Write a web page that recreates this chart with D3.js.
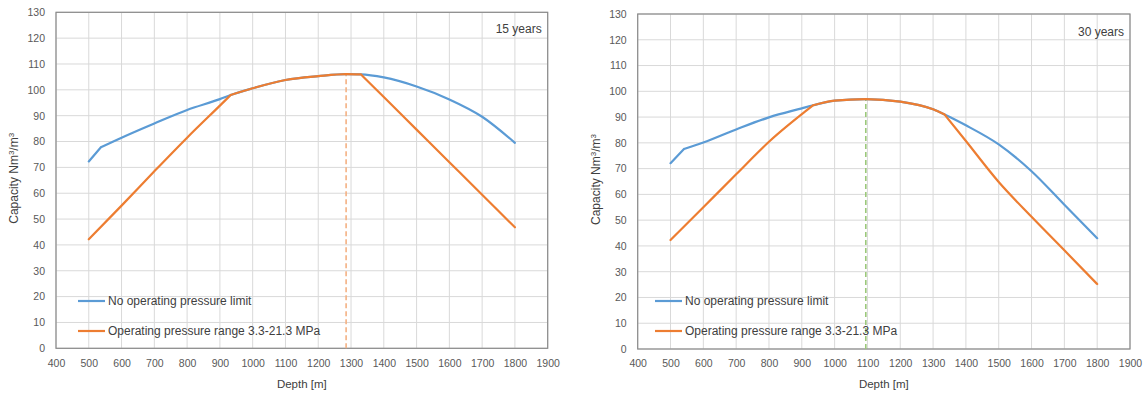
<!DOCTYPE html>
<html>
<head>
<meta charset="utf-8">
<script src="https://cdn.jsdelivr.net/npm/d3@7/dist/d3.min.js"></script>
<style>
  html, body { margin: 0; padding: 0; background: #fff; }
  svg text { font-family: "Liberation Sans", Arial, sans-serif; fill: #595959; }
</style>
</head>
<body>
<svg id="chart" width="1145" height="394"></svg>
<script>
// ---- Data ----
const xTicks = [400, 500, 600, 700, 800, 900, 1000, 1100, 1200, 1300, 1400, 1500, 1600, 1700, 1800, 1900];
const yTicks = [0, 10, 20, 30, 40, 50, 60, 70, 80, 90, 100, 110, 120, 130];
const seriesNames = ["No operating pressure limit", "Operating pressure range 3.3-21.3 MPa"];

// 15 years
const blue15Depth = [500, 537, 600, 700, 800, 900, 933, 1000, 1100, 1200, 1285, 1330, 1400, 1500, 1600, 1700, 1800];
const blue15Cap   = [72.3, 77.8, 81.5, 87.0, 92.2, 96.4, 98.0, 100.6, 103.8, 105.3, 106.1, 106.0, 104.8, 101.3, 96.3, 89.6, 79.5];
const blue15Kinks = [537];
const orange15Depth = [500, 600, 700, 800, 900, 933, 1000, 1100, 1200, 1285, 1330, 1400, 1500, 1600, 1700, 1800];
const orange15Cap   = [42.2, 55.2, 68.5, 81.5, 93.9, 98.0, 100.6, 103.8, 105.3, 106.1, 106.0, 97.2, 84.6, 72.0, 59.4, 46.8];
const orange15Kinks = [933, 1330];
const opt15 = [1285, 106.1];

// 30 years
const blue30Depth = [500, 541, 600, 700, 800, 900, 935, 1000, 1095, 1200, 1300, 1335, 1400, 1500, 1600, 1700, 1800];
const blue30Cap   = [72.1, 77.6, 80.1, 85.2, 89.9, 93.4, 94.6, 96.4, 97.0, 96.0, 93.0, 91.0, 86.8, 79.4, 69.0, 56.0, 43.0];
const blue30Kinks = [541];
const orange30Depth = [500, 600, 700, 800, 935, 1000, 1095, 1200, 1300, 1335, 1400, 1500, 1600, 1700, 1800];
const orange30Cap   = [42.3, 55.0, 67.8, 80.4, 94.6, 96.4, 97.0, 96.0, 93.0, 91.0, 80.7, 64.8, 51.3, 38.3, 25.2];
const orange30Kinks = [935, 1335];
const opt30 = [1095, 97.0];

const panels = [
  { label: "15 years", blueD: blue15Depth, blueC: blue15Cap, blueK: blue15Kinks,
    orD: orange15Depth, orC: orange15Cap, orK: orange15Kinks, opt: opt15,
    x0: 56, x1: 547.7, y0: 12.3, y1: 348.3, ytitleX: 14, optColor: "#f4b183",
    legX: 78, labelY: 33 },
  { label: "30 years", blueD: blue30Depth, blueC: blue30Cap, blueK: blue30Kinks,
    orD: orange30Depth, orC: orange30Cap, orK: orange30Kinks, opt: opt30,
    x0: 637.7, x1: 1130, y0: 14, y1: 349, ytitleX: 596, optColor: "#9bc87a",
    legX: 655, labelY: 36 }
];

const svg = d3.select("#chart");
const blueColor = "#5b9bd5", orangeColor = "#ed7d31";

// split a series at kink depths (each piece smoothed separately)
function pieces(depths, caps, kinks) {
  const pts = depths.map((d, i) => [d, caps[i]]);
  const out = [];
  let cur = [];
  pts.forEach(pt => {
    cur.push(pt);
    if (kinks.includes(pt[0])) { out.push(cur); cur = [pt]; }
  });
  if (cur.length > 1) out.push(cur);
  return out;
}

panels.forEach(p => {
  const x = d3.scaleLinear().domain([400, 1900]).range([p.x0, p.x1]);
  const y = d3.scaleLinear().domain([0, 130]).range([p.y1, p.y0]);
  const g = svg.append("g");

  // gridlines
  g.append("g").selectAll("line").data(xTicks).join("line")
    .attr("x1", d => x(d)).attr("x2", d => x(d))
    .attr("y1", p.y0).attr("y2", p.y1)
    .attr("stroke", "#d9d9d9").attr("stroke-width", 1);
  g.append("g").selectAll("line").data(yTicks).join("line")
    .attr("x1", p.x0).attr("x2", p.x1)
    .attr("y1", d => y(d)).attr("y2", d => y(d))
    .attr("stroke", "#d9d9d9").attr("stroke-width", 1);

  // border
  g.append("rect").attr("x", p.x0).attr("y", p.y0)
    .attr("width", p.x1 - p.x0).attr("height", p.y1 - p.y0)
    .attr("fill", "none").attr("stroke", "#8a8a8a").attr("stroke-width", 1.2);

  // axes (labels only)
  const xAxis = d3.axisBottom(x).tickValues(xTicks).tickFormat(d3.format("d")).tickSize(0).tickPadding(11);
  const xa = g.append("g").attr("transform", `translate(0,${p.y1})`).call(xAxis);
  xa.select(".domain").remove();
  xa.selectAll("text").style("font-size", "10.5px").style("fill", "#595959");

  const yAxis = d3.axisLeft(y).tickValues(yTicks).tickFormat(d3.format("d")).tickSize(0).tickPadding(11);
  const ya = g.append("g").attr("transform", `translate(${p.x0},0)`).call(yAxis);
  ya.select(".domain").remove();
  ya.selectAll("text").style("font-size", "10.5px").style("fill", "#595959");

  // axis titles
  g.append("text").attr("x", (p.x0 + p.x1) / 2).attr("y", 388)
    .attr("text-anchor", "middle").style("font-size", "11.5px").style("fill", "#404040").text("Depth [m]");
  const yt = g.append("text")
    .attr("transform", `translate(${p.ytitleX},${(p.y0 + p.y1) / 2 - 2}) rotate(-90)`)
    .attr("text-anchor", "middle").attr("dy", "0.35em")
    .style("font-size", "12px").style("fill", "#404040");
  yt.append("tspan").text("Capacity Nm");
  yt.append("tspan").attr("baseline-shift", "super").style("font-size", "8px").text("3");
  yt.append("tspan").text("/m");
  yt.append("tspan").attr("baseline-shift", "super").style("font-size", "8px").text("3");

  // year label
  g.append("text").attr("x", p.x1 - 6).attr("y", p.labelY)
    .attr("text-anchor", "end").style("font-size", "12px").style("fill", "#404040").text(p.label);

  // optimum dashed line
  g.append("line")
    .attr("x1", x(p.opt[0])).attr("x2", x(p.opt[0]))
    .attr("y1", y(0)).attr("y2", y(p.opt[1]))
    .attr("stroke", p.optColor).attr("stroke-width", 1.6).attr("stroke-dasharray", "5,3");

  const line = d3.line().x(d => x(d[0])).y(d => y(d[1])).curve(d3.curveMonotoneX);
  const drawSeries = (D, C, K, color) => {
    const d = pieces(D, C, K).map(seg => line(seg)).join("");
    g.append("path").attr("d", d)
      .attr("fill", "none").attr("stroke", color).attr("stroke-width", 2.2)
      .attr("stroke-linejoin", "round").attr("stroke-linecap", "round");
  };
  drawSeries(p.blueD, p.blueC, p.blueK, blueColor);
  drawSeries(p.orD, p.orC, p.orK, orangeColor);

  // legend
  const legY = [301, 331];
  const legColors = [blueColor, orangeColor];
  seriesNames.forEach((name, i) => {
    g.append("line").attr("x1", p.legX).attr("x2", p.legX + 27)
      .attr("y1", legY[i]).attr("y2", legY[i])
      .attr("stroke", legColors[i]).attr("stroke-width", 2.2);
    g.append("text").attr("x", p.legX + 30).attr("y", legY[i]).attr("dy", "0.35em")
      .style("font-size", "12px").style("fill", "#404040").text(name);
  });
});
</script>
</body>
</html>
